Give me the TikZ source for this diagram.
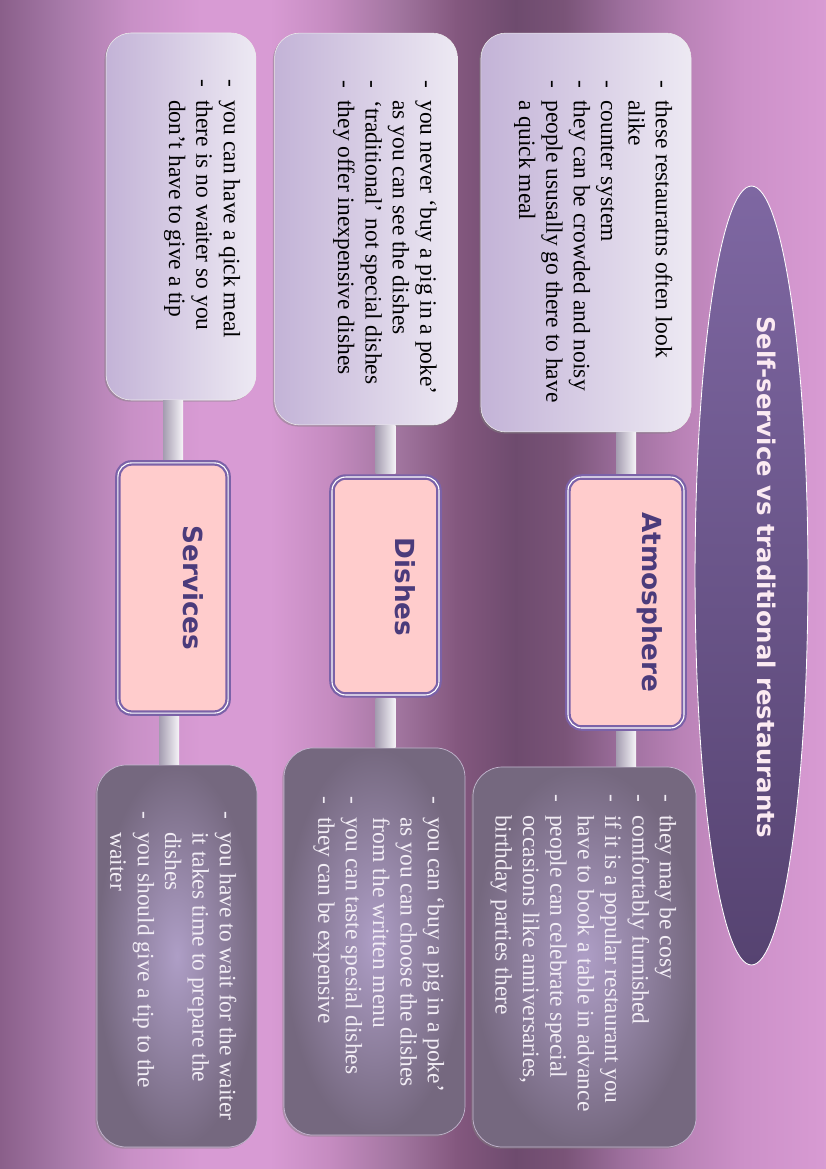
\documentclass[tikz,border=0pt]{standalone}
\usepackage{fontspec}
\setmainfont{Liberation Serif}
\newfontfamily\headfont{DejaVu Sans}
\usetikzlibrary{calc,shapes.geometric,shadows}

% background stripes
\definecolor{bg0}{HTML}{8A5F8A}
\definecolor{bg1}{HTML}{A679A8}
\definecolor{bg2}{HTML}{C890C6}
\definecolor{bg3}{HTML}{D89BD4}
\definecolor{bg4}{HTML}{C58BC0}
\definecolor{bg5}{HTML}{A0749E}
\definecolor{bg6}{HTML}{84587F}
\definecolor{bg7}{HTML}{6E4B6E}
\definecolor{bg8}{HTML}{7A5478}
\definecolor{bg9}{HTML}{9C6E9C}
\definecolor{bg10}{HTML}{B982B6}
\definecolor{bg11}{HTML}{CC90C8}
\definecolor{bg12}{HTML}{D89BD3}
% boxes
\definecolor{topL}{HTML}{C3B3D7}
\definecolor{topR}{HTML}{EDE9F3}
\definecolor{botIn}{HTML}{AE9EC6}
\definecolor{botOut}{HTML}{75687F}
\definecolor{botLine}{HTML}{C4B8D0}
\definecolor{botText}{HTML}{F2EDF5}
\definecolor{catFill}{HTML}{FFCCCC}
\definecolor{catLine}{HTML}{7B62A8}
\definecolor{catText}{HTML}{4B3B7B}
\definecolor{ttlTop}{HTML}{7E67A2}
\definecolor{ttlBot}{HTML}{564371}
\definecolor{ttlText}{HTML}{FBEAF2}
\definecolor{barL}{HTML}{A49CB0}
\definecolor{barR}{HTML}{F6F4F8}

\newcommand{\itemlist}[1]{\begin{tabular}{@{}l@{\hspace{9pt}}l@{}}#1\end{tabular}}

\begin{document}
\begin{tikzpicture}[
        x=0.2542mm, y=-0.2542mm,
        % box styles
        topbox/.style={rectangle, rounded corners=6.4mm, inner sep=0pt, draw=white!85!gray, line width=0.4pt, left color=topL, right color=topR, drop shadow={shadow xshift=-1.2pt, shadow yshift=-1.2pt, opacity=0.45}},
        botbox/.style={rectangle, rounded corners=7.5mm, inner sep=0pt, draw=botLine, line width=0.5pt, inner color=botIn, outer color=botOut, drop shadow={shadow xshift=-1.2pt, shadow yshift=-1.2pt, opacity=0.45}},
        catbox/.style={rectangle, rounded corners=3.5mm, inner sep=0pt, fill=catFill, draw=catLine, line width=1.6pt, double=white, double distance=0.8pt},
        titleshape/.style={ellipse, inner sep=0pt, draw=white, line width=0.6pt, top color=ttlTop, bottom color=ttlBot},
        % text styles
        itemtext/.style={rotate=-90, anchor=north west, inner sep=0pt, font=\fontsize{17}{19.8}\selectfont},
        darktext/.style={itemtext, text=black},
        lighttext/.style={itemtext, text=botText},
        catlabel/.style={rotate=-90, inner sep=0pt, font=\headfont\bfseries\fontsize{19}{22}\selectfont, text=catText},
        titletext/.style={rotate=-90, inner sep=0pt, font=\headfont\bfseries\fontsize{17.6}{20}\selectfont, text=ttlText},
        bar/.style={left color=barL, right color=barR}
    ]
        \useasboundingbox (0,0) rectangle (826,1169);

        % background
        \foreach \xa/\xb/\ca/\cb in {0/60/bg0/bg1, 60/130/bg1/bg2, 130/200/bg2/bg3, 200/270/bg3/bg3, 270/330/bg3/bg4, 330/400/bg4/bg5, 400/455/bg5/bg6, 455/515/bg6/bg7, 515/565/bg7/bg8, 565/620/bg8/bg9, 620/680/bg9/bg10, 680/740/bg10/bg11, 740/826/bg11/bg12}
            \shade[left color=\ca, right color=\cb] (\xa,0) rectangle ({\xb+1},1169);

        % title
        \node[titleshape, minimum width=28.7mm, minimum height=198mm] (ttl) at (751.5,575.5) {};
        \node[titletext] (ttltxt) at ($(ttl)+(15.5,1.5)$) {Self-service vs traditional restaurants};

        % top boxes (self-service)
        \node[topbox, minimum width=53.4mm, minimum height=101.4mm] (atmtop) at (586,232.5) {};
        \node[topbox, minimum width=46.5mm, minimum height=99.6mm] (dishtop) at (366,229) {};
        \node[topbox, minimum width=38.1mm, minimum height=93.3mm] (servtop) at (181,216.5) {};

        % middle boxes
        \node[catbox, minimum width=29.5mm, minimum height=63.8mm] (atm) at (626,602.5) {};
        \node[catbox, minimum width=27.2mm, minimum height=55.4mm] (dish) at (385.5,586) {};
        \node[catbox, minimum width=28mm, minimum height=63.6mm] (serv) at (173,588) {};
        \node[catlabel] (atmlbl) at ($(atm)+(24,0)$) {Atmosphere};
        \node[catlabel] (dishlbl) at ($(dish)+(19.5,1)$) {Dishes};
        \node[catlabel] (servlbl) at ($(serv)+(20,0)$) {Services};

        % bottom boxes (traditional)
        \node[botbox, minimum width=56.7mm, minimum height=96.6mm] (atmbot) at (584.5,957) {};
        \node[botbox, minimum width=46mm, minimum height=98.4mm] (dishbot) at (374.5,941.5) {};
        \node[botbox, minimum width=40.7mm, minimum height=97.1mm] (servbot) at (177,956) {};

        % connectors
        \shade[bar] ($(atm.north)+(-10,-2)$) rectangle ($(atm.north |- atmtop.south)+(10,0)$);
        \shade[bar] ($(dish.north)+(-10,-2)$) rectangle ($(dish.north |- dishtop.south)+(10,0)$);
        \shade[bar] ($(serv.north)+(-10,-2)$) rectangle ($(serv.north |- servtop.south)+(10,0)$);
        \shade[bar] ($(atm.south)+(-10,2)$) rectangle ($(atm.south |- atmbot.north)+(10,0)$);
        \shade[bar] ($(dish.south)+(-10,2)$) rectangle ($(dish.south |- dishbot.north)+(10,0)$);
        \shade[bar] ($(serv.south)+(-14,2)$) rectangle ($(serv.south |- servbot.north)+(6,0)$);

        % texts
        \node[darktext] (atmtoptxt) at ($(atmtop.north east)+(-16,47)$) {\itemlist{
            - & these restauratns often look\\
              & alike\\
            - & counter system\\
            - & they can be crowded and noisy\\
            - & people ususally go there to have\\
              & a quick meal}};
        \node[darktext] (dishtoptxt) at ($(dishtop.north east)+(-18,47)$) {\itemlist{
            - & you never `buy a pig in a poke'\\
              & as you can see the dishes\\
            - & `traditional' not special dishes\\
            - & they offer inexpensive dishes}};
        \node[darktext] (servtoptxt) at ($(servtop.north east)+(-13,47)$) {\itemlist{
            - & you can have a qick meal\\
            - & there is no waiter so you\\
              & don't have to give a tip}};
        \node[lighttext] (atmbottxt) at ($(atmbot.north east)+(-17,28)$) {\itemlist{
            - & they may be cosy\\
            - & comfortably furnished\\
            - & if it is a popular restaurant you\\
              & have to book a table in advance\\
            - & people can celebrate special\\
              & occasions like anniversaries,\\
              & birthday parties there}};
        \node[lighttext] (dishbottxt) at ($(dishbot.north east)+(-18,49)$) {\itemlist{
            - & you can `buy a pig in a poke'\\
              & as you can choose the dishes\\
              & from the written menu\\
            - & you can taste spesial dishes\\
            - & they can be expensive}};
        \node[lighttext] (servbottxt) at ($(servbot.north east)+(-18,47)$) {\itemlist{
            - & you have to wait for the waiter\\
              & it takes time to prepare the\\
              & dishes\\
            - & you should give a tip to the\\
              & waiter}};

    \end{tikzpicture}
\end{document}
